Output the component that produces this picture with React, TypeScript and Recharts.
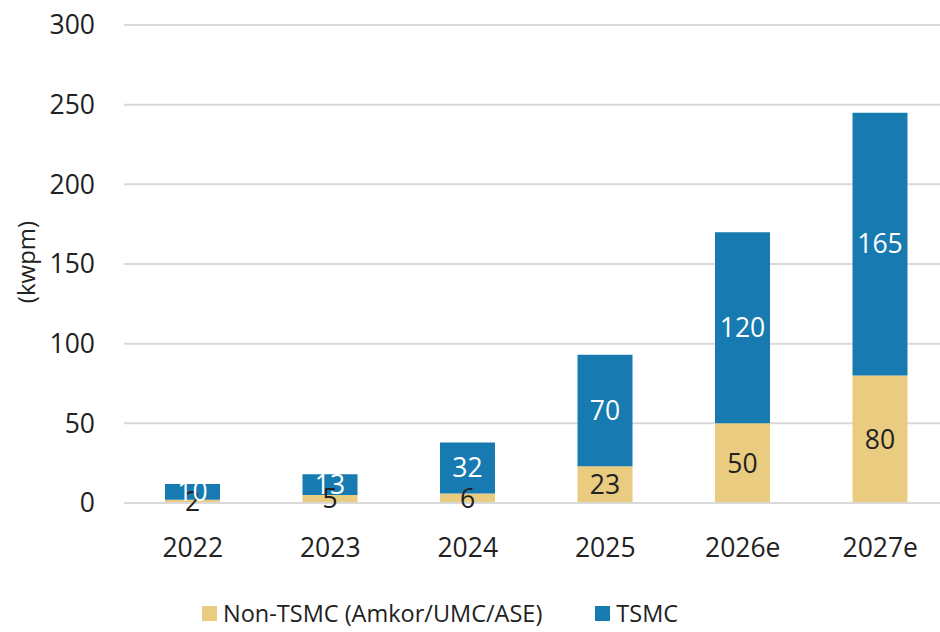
import React from "react";
import { BarChart, Bar, XAxis, YAxis, CartesianGrid, Legend, LabelList } from "recharts";

const categories = ["2022", "2023", "2024", "2025", "2026e", "2027e"];
const nonTsmc = [2, 5, 6, 23, 50, 80];
const tsmc = [10, 13, 32, 70, 120, 165];
const yTicks = [0, 50, 100, 150, 200, 250, 300];
const seriesNames = ["Non-TSMC (Amkor/UMC/ASE)", "TSMC"];
const yLabel = "(kwpm)";

const data = categories.map((c, i) => ({ name: c, non: nonTsmc[i], tsmc: tsmc[i] }));

const FONT = "'Open Sans', sans-serif";
const GOLD = "#EACC80";
const BLUE = "#177BB1";
const TEXT = "#222222";

const renderLegend = (props: any) => {
  const { payload } = props;
  return (
    <div style={{ display: "flex", paddingLeft: 202, fontFamily: FONT, fontSize: 23.5, color: TEXT, alignItems: "center" }}>
      {payload.map((p: any, i: number) => (
        <div key={i} style={{ display: "flex", alignItems: "center", marginRight: 53 }}>
          <div style={{ width: 15, height: 15, background: p.color, marginRight: 6 }} />
          <span>{p.value}</span>
        </div>
      ))}
    </div>
  );
};

export default function App() {
  return (
    <div style={{ position: "absolute", top: 0, left: 0, width: 940, height: 632, overflow: "hidden", background: "#fff" }}>
      <BarChart width={950} height={632} data={data} margin={{ top: 25, right: 1, left: 0, bottom: 25 }}>
        <CartesianGrid vertical={false} stroke="#d9d9d9" strokeWidth={2} />
        <XAxis
          dataKey="name"
          height={72}
          axisLine={{ stroke: "#d9d9d9", strokeWidth: 2 }}
          tickLine={false}
          tickMargin={29}
          tick={{ fontFamily: FONT, fontSize: 26.5, fill: TEXT }}
        />
        <YAxis
          width={124}
          domain={[0, 300]}
          ticks={yTicks}
          axisLine={false}
          tickLine={false}
          tickMargin={23}
          tick={{ fontFamily: FONT, fontSize: 26.5, fill: TEXT }}
          label={() => (
            <text x={25} y={262} transform="rotate(-90 25 262)" textAnchor="middle" dominantBaseline="central" fontFamily={FONT} fontSize={24} fill={TEXT}>
              {yLabel}
            </text>
          )}
        />
        <Legend verticalAlign="bottom" content={renderLegend} wrapperStyle={{ bottom: 3 }} />
        <Bar dataKey="non" name={seriesNames[0]} stackId="a" fill={GOLD} barSize={55} isAnimationActive={false}>
          <LabelList dataKey="non" position="center" fill={TEXT} style={{ fontFamily: FONT, fontSize: 26.5 }} />
        </Bar>
        <Bar dataKey="tsmc" name={seriesNames[1]} stackId="a" fill={BLUE} barSize={55} isAnimationActive={false}>
          <LabelList dataKey="tsmc" position="center" fill="#ffffff" style={{ fontFamily: FONT, fontSize: 26.5 }} />
        </Bar>
      </BarChart>
    </div>
  );
}
